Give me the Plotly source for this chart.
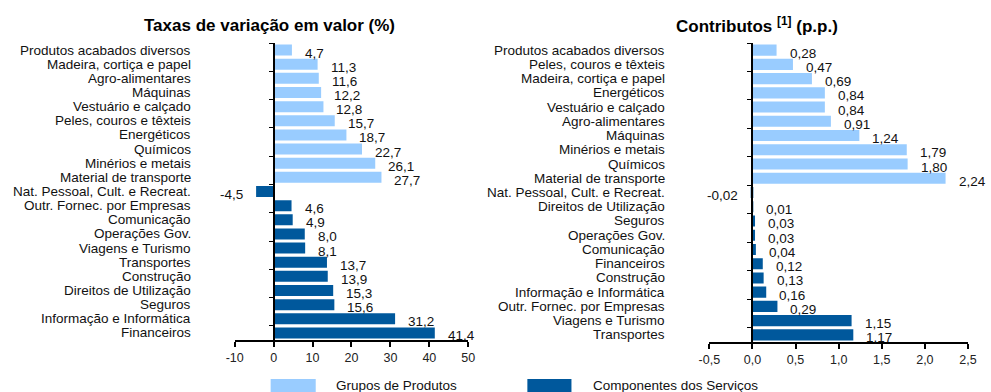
import plotly.graph_objects as go

# --- data -------------------------------------------------------------
rate_products = [
    "Produtos acabados diversos", "Madeira, cortiça e papel", "Agro-alimentares",
    "Máquinas", "Vestuário e calçado", "Peles, couros e têxteis", "Energéticos",
    "Químicos", "Minérios e metais", "Material de transporte",
]
rate_products_values = [4.7, 11.3, 11.6, 12.2, 12.8, 15.7, 18.7, 22.7, 26.1, 27.7]

rate_services = [
    "Nat. Pessoal, Cult. e Recreat.", "Outr. Fornec. por Empresas", "Comunicação",
    "Operações Gov.", "Viagens e Turismo", "Transportes", "Construção",
    "Direitos de Utilização", "Seguros", "Informação e Informática", "Financeiros",
]
rate_services_values = [-4.5, 4.6, 4.9, 8.0, 8.1, 13.7, 13.9, 15.3, 15.6, 31.2, 41.4]

contrib_products = [
    "Produtos acabados diversos", "Peles, couros e têxteis", "Madeira, cortiça e papel",
    "Energéticos", "Vestuário e calçado", "Agro-alimentares", "Máquinas",
    "Minérios e metais", "Químicos", "Material de transporte",
]
contrib_products_values = [0.28, 0.47, 0.69, 0.84, 0.84, 0.91, 1.24, 1.79, 1.80, 2.24]

contrib_services = [
    "Nat. Pessoal, Cult. e Recreat.", "Direitos de Utilização", "Seguros",
    "Operações Gov.", "Comunicação", "Financeiros", "Construção",
    "Informação e Informática", "Outr. Fornec. por Empresas", "Viagens e Turismo",
    "Transportes",
]
contrib_services_values = [-0.02, 0.01, 0.03, 0.03, 0.04, 0.12, 0.13, 0.16, 0.29, 1.15, 1.17]

rate_ticks = [-10, 0, 10, 20, 30, 40, 50]
contrib_ticks = [-0.5, 0.0, 0.5, 1.0, 1.5, 2.0, 2.5]

legend_names = ["Grupos de Produtos", "Componentes dos Serviços"]

# --- styling ----------------------------------------------------------
W, H = 991, 392
LIGHT = "#99CCFF"
DARK = "#00589C"
FONT = "Liberation Sans, Arial, sans-serif"

left_dom = [228.3 / W, 466.7 / W]
right_dom = [712.7 / W, 976.7 / W]
left_ydom = [1 - 340 / H, 1 - 43 / H]
right_ydom = [1 - 342 / H, 1 - 43 / H]
left_range = [rate_ticks[0], rate_ticks[-1]]
right_range = [contrib_ticks[0], contrib_ticks[-1]]


def zero_pos(dom, rng):
    return dom[0] + (0 - rng[0]) / (rng[1] - rng[0]) * (dom[1] - dom[0])


def fmt(v, nd):
    return f"{v:.{nd}f}".replace(".", ",")


label_font = dict(family=FONT, size=13.5, color="#111")
tick_font = dict(family=FONT, size=12.5, color="#222")

fig = go.Figure()

panels = [
    ("x", "y", rate_products, rate_products_values, rate_services, rate_services_values, 1, 81),
    ("x2", "y2", contrib_products, contrib_products_values, contrib_services, contrib_services_values, 2, 85),
]

annotations = []
for xa, ya, pc, pv, sc, sv, nd, gap in panels:
    fig.add_trace(go.Bar(y=pc, x=pv, orientation="h", marker_color=LIGHT,
                         marker_line_width=0, xaxis=xa, yaxis=ya, showlegend=False))
    fig.add_trace(go.Bar(y=sc, x=sv, orientation="h", marker_color=DARK,
                         marker_line_width=0, xaxis=xa, yaxis=ya, showlegend=False))
    for cats, vals in ((pc, pv), (sc, sv)):
        for c, v in zip(cats, vals):
            # value label beside the bar end
            annotations.append(dict(
                x=v, y=c, xref=xa, yref=ya, text=fmt(v, nd), showarrow=False,
                xanchor="left" if v >= 0 else "right",
                xshift=11 if v >= 0 else -11, yshift=-3, font=label_font,
            ))
            # category name, right-aligned well left of the zero line
            annotations.append(dict(
                x=0, y=c, xref=xa, yref=ya, text=c, showarrow=False,
                xanchor="right", xshift=-gap, font=label_font,
            ))

common_x = dict(showgrid=False, zeroline=False, showline=True, linecolor="black",
                linewidth=2, ticks="outside", ticklen=5, tickwidth=1.5,
                tickcolor="black", tickfont=tick_font)
common_y = dict(type="category", anchor="free", showline=True, linecolor="black",
                linewidth=2, showgrid=False, ticks="outside", tickson="boundaries",
                ticklen=4, tickcolor="black", showticklabels=False, range=[20.5, -0.5])

fig.update_layout(
    width=W, height=H, margin=dict(l=0, r=0, t=0, b=0),
    paper_bgcolor="white", plot_bgcolor="white",
    barmode="relative", bargap=0.22, separators=", ",
    font=dict(family=FONT),
    xaxis=dict(domain=left_dom, anchor="y", range=left_range, tickvals=rate_ticks,
               ticktext=[fmt(t, 0) for t in rate_ticks], **common_x),
    yaxis=dict(domain=left_ydom, categoryarray=rate_products + rate_services,
               position=zero_pos(left_dom, left_range), **common_y),
    xaxis2=dict(domain=right_dom, anchor="y2", range=right_range, tickvals=contrib_ticks,
                ticktext=[fmt(t, 1) for t in contrib_ticks], **common_x),
    yaxis2=dict(domain=right_ydom, categoryarray=contrib_products + contrib_services,
                position=zero_pos(right_dom, right_range), **common_y),
)

# titles
annotations.append(dict(x=264 / W, y=1 - 25 / H, xref="paper", yref="paper",
                        text="<b>Taxas de variação em valor (%)</b>", showarrow=False,
                        xanchor="center", yanchor="middle",
                        font=dict(family=FONT, size=17, color="black")))
annotations.append(dict(x=761 / W, y=1 - 25 / H, xref="paper", yref="paper",
                        text="<b>Contributos <sup>[1]</sup> (p.p.)</b>", showarrow=False,
                        xanchor="center", yanchor="middle",
                        font=dict(family=FONT, size=17, color="black")))

# legend drawn beneath the panels
shapes = []
for (x0, x1, tx), col, name in zip([(265, 311, 330), (527, 572, 592)], [LIGHT, DARK], legend_names):
    shapes.append(dict(type="rect", xref="paper", yref="paper", x0=x0 / W, x1=x1 / W,
                       y0=-0.05, y1=1 - 379 / H, fillcolor=col, line_width=0))
    annotations.append(dict(x=tx / W, y=1 - 385 / H, xref="paper", yref="paper", text=name,
                            showarrow=False, xanchor="left", yanchor="middle",
                            font=label_font))

fig.update_layout(annotations=annotations, shapes=shapes)
fig.write_html("out.html")
